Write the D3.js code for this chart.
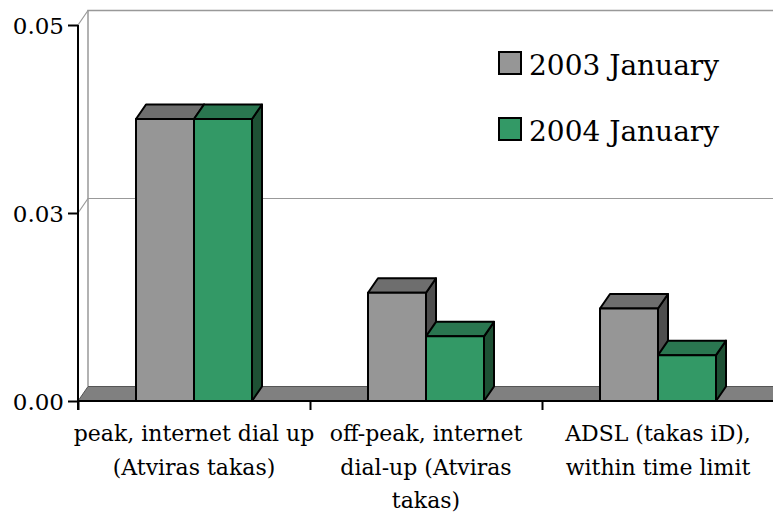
<!DOCTYPE html>
<html>
<head>
<meta charset="utf-8">
<script src="https://cdn.jsdelivr.net/npm/d3@7"></script>
<style>
body { margin: 0; background: #fff; }
</style>
</head>
<body>
<div id="chart"></div>
<script>
const categories = ["peak", "offpeak", "adsl"];
const categoryLines = [
    ["peak, internet dial up", "(Atviras takas)"],
    ["off-peak, internet", "dial-up (Atviras", "takas)"],
    ["ADSL (takas iD),", "within time limit"]
];
const seriesNames = ["2003 January", "2004 January"];
const values2003 = [0.0375, 0.0144, 0.0123];
const values2004 = [0.0375, 0.0086, 0.0061];
const yTicks = [0, 0.025, 0.05];

const width = 773, height = 515;
const plotLeft = 78, plotRight = 774, plotTop = 25, plotBottom = 401;
const dx = 10, dy = -14.5;
const serif = "DejaVu Serif";

const colors = [
    {front: "#969696", top: "#6e6e6e", side: "#4e4e4e"},
    {front: "#339966", top: "#2a7650", side: "#1e5034"}
];

const svg = d3.select("#chart")
    .append("svg")
    .attr("width", width)
    .attr("height", height);

const y = d3.scaleLinear()
    .domain([0, 0.05])
    .range([plotBottom, plotTop]);

const x0 = d3.scaleBand()
    .domain(categories)
    .range([plotLeft, plotRight])
    .paddingInner(0.5)
    .paddingOuter(0.25);

const x1 = d3.scaleBand()
    .domain([0, 1])
    .range([0, x0.bandwidth()]);

const xEdges = d3.scaleLinear()
    .domain([0, categories.length])
    .range([plotLeft, plotRight]);

// back wall
svg.append("path")
    .attr("d", `M${plotLeft + dx},${plotBottom + dy}V${plotTop + dy}H${width + 2}`)
    .attr("fill", "none")
    .attr("stroke", "#999")
    .attr("stroke-width", 1.5);

yTicks.filter(d => d > 0).forEach(t => {
    svg.append("path")
        .attr("d", `M${plotLeft},${y(t)}L${plotLeft + dx},${y(t) + dy}H${width + 2}`)
        .attr("fill", "none")
        .attr("stroke", "#999")
        .attr("stroke-width", 1.2);
});

// floor
svg.append("path")
    .attr("d", `M${plotLeft},${plotBottom}L${plotLeft + dx},${plotBottom + dy}H${plotRight + dx}L${plotRight},${plotBottom}Z`)
    .attr("fill", "#808080")
    .attr("stroke", "#555")
    .attr("stroke-width", 1);

// bars
const series = [values2003, values2004];
categories.forEach((c, i) => {
    series.forEach((vals, s) => {
        const x = x0(c) + x1(s);
        const w = x1.bandwidth();
        const yt = y(vals[i]);
        const g = svg.append("g")
            .attr("stroke", "#000")
            .attr("stroke-width", 2)
            .attr("stroke-linejoin", "round");
        g.append("path")
            .attr("d", `M${x + w},${plotBottom}V${yt}L${x + w + dx},${yt + dy}V${plotBottom + dy}Z`)
            .attr("fill", colors[s].side);
        g.append("path")
            .attr("d", `M${x},${yt}L${x + dx},${yt + dy}H${x + w + dx}L${x + w},${yt}Z`)
            .attr("fill", colors[s].top);
        g.append("rect")
            .attr("x", x)
            .attr("y", yt)
            .attr("width", w)
            .attr("height", plotBottom - yt)
            .attr("fill", colors[s].front);
    });
});

// y axis
const yAxis = svg.append("g")
    .attr("transform", `translate(${plotLeft},0)`)
    .call(d3.axisLeft(y).tickValues(yTicks).tickFormat(d3.format(".2f")).tickSize(10).tickPadding(4));
yAxis.select(".domain").attr("d", `M0,${plotTop}V${plotBottom + 9}`).attr("stroke-width", 2);
yAxis.selectAll(".tick line").attr("stroke-width", 2);
yAxis.selectAll("text")
    .attr("font-family", serif)
    .attr("font-size", 23)
    .attr("fill", "#000")
    .attr("dy", "0.36em");

// x axis
const xAxis = svg.append("g")
    .attr("transform", `translate(0,${plotBottom})`)
    .call(d3.axisBottom(xEdges).tickValues(d3.range(categories.length + 1)).tickFormat("").tickSize(9));
xAxis.select(".domain").attr("d", `M${plotLeft},0H${plotRight}`).attr("stroke-width", 2);
xAxis.selectAll(".tick line").attr("stroke-width", 2);

categories.forEach((c, i) => {
    const t = svg.append("text")
        .attr("text-anchor", "middle")
        .attr("font-family", serif)
        .attr("font-size", 22);
    categoryLines[i].forEach((line, j) => {
        t.append("tspan")
            .attr("x", x0(c) + x0.bandwidth() / 2)
            .attr("y", 441 + j * 33.5)
            .text(line);
    });
});

// legend
const legend = svg.append("g");
seriesNames.forEach((name, s) => {
    legend.append("rect")
        .attr("x", 499)
        .attr("y", 52 + s * 66)
        .attr("width", 22)
        .attr("height", 22)
        .attr("fill", colors[s].front)
        .attr("stroke", "#000")
        .attr("stroke-width", 2);
    legend.append("text")
        .attr("x", 529)
        .attr("y", 75 + s * 66)
        .attr("font-family", serif)
        .attr("font-size", 28)
        .text(name);
});
</script>
</body>
</html>
